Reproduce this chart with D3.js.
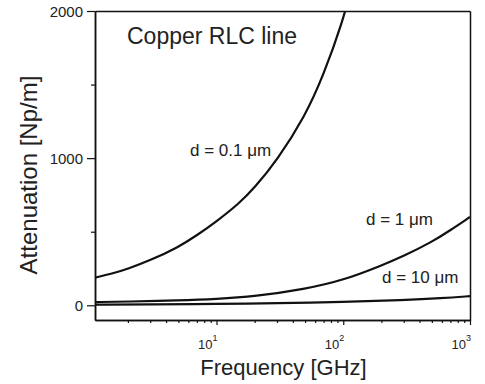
<!DOCTYPE html>
<html>
<head>
<meta charset="utf-8">
<script src="https://cdn.jsdelivr.net/npm/d3@7"></script>
<style>
  body { margin: 0; background: #fff; }
  svg { font-family: "Liberation Sans", Arial, Helvetica, sans-serif; }
</style>
</head>
<body>
<svg id="chart" width="485" height="384"></svg>
<script>
// frequency [GHz] and attenuation [Np/m]
const freq01 = [1.1, 1.5, 2, 3, 5, 7, 10, 15, 20, 30, 50, 70, 100, 115];
const att01 = [188, 215, 248, 305, 395, 475, 570, 690, 800, 985, 1285, 1565, 1940, 2150];

const freq1 = [1.1, 2, 5, 10, 20, 50, 100, 200, 300, 500, 700, 1000];
const att1 = [22, 25, 33, 42, 60, 110, 170, 270, 335, 430, 510, 600];

const freq10 = [1.1, 3, 10, 30, 100, 300, 600, 1000];
const att10 = [4, 6, 9, 14, 22, 35, 48, 62];

const seriesNames = ['d = 0.1 \u03bcm', 'd = 1 \u03bcm', 'd = 10 \u03bcm'];
const yMajor = [0, 1000, 2000];
const yMinor = [500, 1500];
const xMajor = [10, 100, 1000];
const xExp = ['1', '2', '3'];

const svg = d3.select('#chart');
const plotL = 95, plotR = 470, plotT = 11, plotB = 320;

const x = d3.scaleLog().domain([1.1, 1000]).range([plotL, plotR]);
const y = d3.scaleLinear().domain([-100, 2000]).range([plotB, plotT]);

const ink = '#111';

svg.append('clipPath').attr('id', 'clip')
  .append('rect')
  .attr('x', plotL).attr('y', plotT)
  .attr('width', plotR - plotL).attr('height', plotB - plotT);

// minor x ticks: 2..9 in each decade
const xMinor = [];
[1, 10, 100].forEach(dec => {
  for (let k = 2; k <= 9; k++) {
    if (k * dec > 1.1 && k * dec < 1000) xMinor.push(k * dec);
  }
});

const styleAxis = g => {
  g.select('.domain').attr('stroke', ink).attr('stroke-width', 1.5);
  g.selectAll('.tick line').attr('stroke', ink).attr('stroke-width', 1.2);
};

svg.append('g')
  .attr('transform', `translate(0,${plotB})`)
  .call(d3.axisBottom(x).tickValues(xMinor).tickSize(3).tickSizeOuter(0).tickFormat(''))
  .call(styleAxis);
svg.append('g')
  .attr('transform', `translate(0,${plotB})`)
  .call(d3.axisBottom(x).tickValues(xMajor).tickSize(5).tickSizeOuter(0).tickFormat(''))
  .call(styleAxis);

svg.append('g')
  .attr('transform', `translate(${plotL},0)`)
  .call(d3.axisLeft(y).tickValues(yMinor).tickSize(4).tickSizeOuter(0).tickFormat(''))
  .call(styleAxis);
svg.append('g')
  .attr('transform', `translate(${plotL},0)`)
  .call(d3.axisLeft(y).tickValues(yMajor).tickSize(8).tickSizeOuter(0).tickFormat(''))
  .call(styleAxis);

svg.append('g')
  .attr('transform', `translate(0,${plotT})`)
  .call(d3.axisTop(x).tickValues([]).tickSizeOuter(0))
  .call(styleAxis);
svg.append('g')
  .attr('transform', `translate(${plotR},0)`)
  .call(d3.axisRight(y).tickValues([]).tickSizeOuter(0))
  .call(styleAxis);

// y tick labels
svg.append('g').selectAll('text')
  .data(yMajor)
  .join('text')
  .attr('x', 83)
  .attr('y', d => y(d) + 5.5)
  .attr('text-anchor', 'end')
  .attr('font-size', 15)
  .attr('fill', '#222')
  .text(d => d);

// x tick labels, 10 with superscript exponent
const xl = svg.append('g').selectAll('text')
  .data(xMajor)
  .join('text')
  .attr('x', d => x(d) + 1)
  .attr('y', 349)
  .attr('text-anchor', 'end')
  .attr('font-size', 13)
  .attr('fill', '#222');
xl.append('tspan').text('10');
xl.append('tspan')
  .attr('dy', -8)
  .attr('font-size', 9)
  .text((d, i) => xExp[i]);

// axis titles
svg.append('text')
  .attr('x', (plotL + plotR) / 2 + 1)
  .attr('y', 375)
  .attr('text-anchor', 'middle')
  .attr('font-size', 22)
  .attr('fill', '#222')
  .text('Frequency [GHz]');

svg.append('text')
  .attr('transform', 'translate(37,175) rotate(-90)')
  .attr('text-anchor', 'middle')
  .attr('font-size', 24)
  .attr('fill', '#222')
  .text('Attenuation [Np/m]');

svg.append('text')
  .attr('x', 127)
  .attr('y', 44)
  .attr('font-size', 23)
  .attr('fill', '#222')
  .text('Copper RLC line');

// curves
const line = d3.line()
  .x(d => x(d[0]))
  .y(d => y(d[1]))
  .curve(d3.curveBasis);

const curves = [
  d3.zip(freq01, att01),
  d3.zip(freq1, att1),
  d3.zip(freq10, att10)
];

svg.append('g')
  .attr('clip-path', 'url(#clip)')
  .selectAll('path')
  .data(curves)
  .join('path')
  .attr('fill', 'none')
  .attr('stroke', ink)
  .attr('stroke-width', 2.2)
  .attr('stroke-linejoin', 'round')
  .attr('d', line);

// curve labels
const labelPos = [[190, 156], [366, 225], [382, 283]];
svg.append('g').selectAll('text')
  .data(seriesNames)
  .join('text')
  .attr('x', (d, i) => labelPos[i][0])
  .attr('y', (d, i) => labelPos[i][1])
  .attr('font-size', 17)
  .attr('fill', '#222')
  .text(d => d);
</script>
</body>
</html>
